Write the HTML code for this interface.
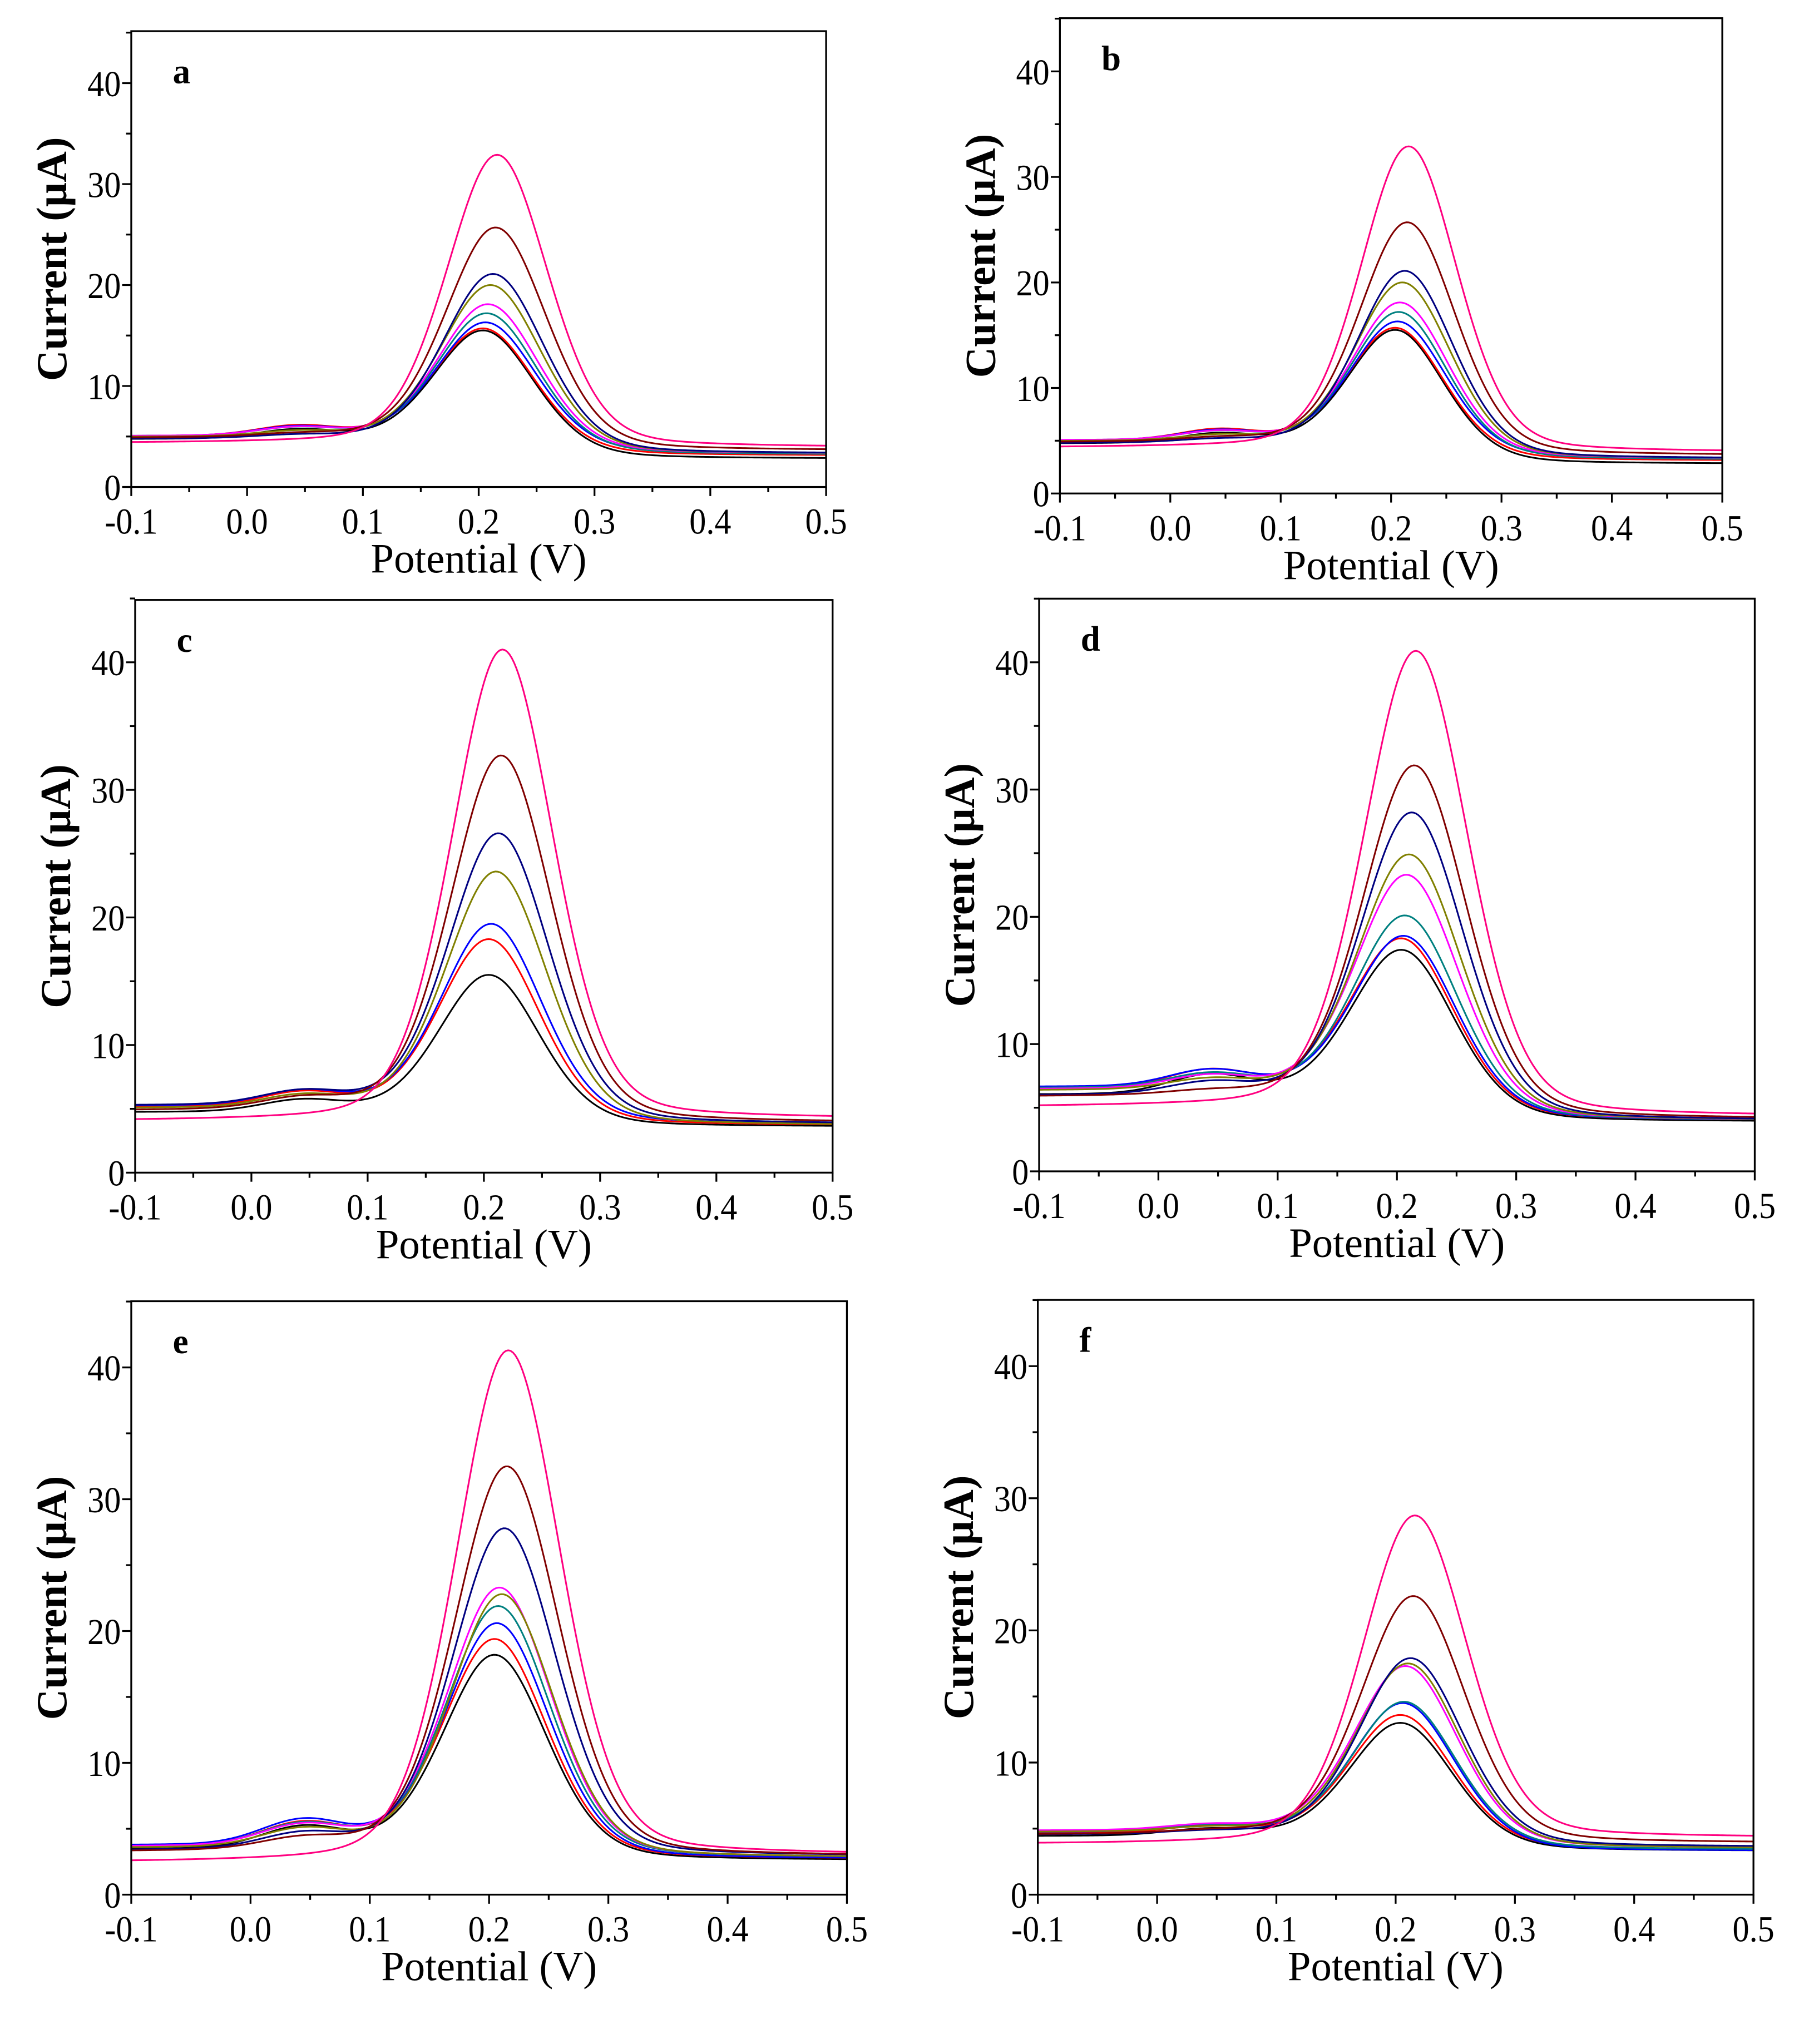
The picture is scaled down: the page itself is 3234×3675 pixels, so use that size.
<!DOCTYPE html>
<html><head><meta charset="utf-8">
<style>
html,body{margin:0;padding:0;background:#fff;}
svg{display:block;}
text{font-family:"Liberation Serif",serif;fill:#000;}
</style></head>
<body>
<svg id="fig" width="3234" height="3675" viewBox="0 0 1385 1574" xmlns="http://www.w3.org/2000/svg">
<rect width="1385" height="1574" fill="#fff"/>
</svg>
<script>
// series colors (order: black, red, blue, teal, magenta, olive, navy, darkred, pink)
const colors = ["#000000","#ff0000","#0000ff","#008080","#ff00ff","#808000","#000080","#800000","#ff0080"];
const xTicks = [-0.1,0.0,0.1,0.2,0.3,0.4,0.5];
const xTickLabels = ["-0.1","0.0","0.1","0.2","0.3","0.4","0.5"];
const yTicks = [0,10,20,30,40];
const yTickLabels = ["0","10","20","30","40"];
// peak currents (µA) per panel
const peaksA = [15.5,15.7,16.3,17.2,18.1,20.0,21.1,25.7,32.9];
const peaksB = [15.5,15.7,16.3,17.2,18.1,20.0,21.1,25.7,32.9];
const peaksC = [15.5,18.3,19.5,null,null,23.6,26.6,32.7,41.0];
const peaksD = [17.4,18.3,18.5,20.1,23.3,24.9,28.2,31.9,40.9];
const peaksE = [18.2,19.4,20.6,21.9,23.3,22.8,27.8,32.5,41.3];
const peaksF = [13.0,13.6,14.5,14.6,17.3,17.5,17.9,22.6,28.7];
// peak potentials (V)
const peakPos = [0.205,0.205,0.207,0.208,0.209,0.211,0.213,0.215,0.216];
// baselines at -0.1 V and 0.5 V per panel
const leftA = [4.7,5.0,5.0,5.0,5.0,4.9,4.7,4.8,4.3];
const rightA = [2.8,3.1,3.3,3.2,3.3,3.3,3.3,3.6,3.9];
const leftC = [4.7,5.1,5.2,5.0,5.0,5.0,5.2,4.8,4.0];
const rightC = [3.6,3.7,3.8,3.7,3.8,3.7,3.8,3.9,4.2];
const leftD = [6.0,6.5,6.6,6.5,6.4,6.3,5.9,5.8,5.0];
const rightD = [3.9,4.0,4.0,4.0,4.0,4.0,4.0,4.1,4.3];
const leftE = [3.4,3.6,3.7,3.6,3.6,3.5,3.3,3.2,2.4];
const rightE = [2.6,2.7,2.7,2.8,2.8,2.8,2.9,2.9,3.0];
const leftF = [4.4,4.6,4.7,4.8,4.8,4.7,4.5,4.5,3.8];
const rightF = [3.3,3.4,3.3,3.4,3.5,3.5,3.6,3.9,4.3];
// pre-peak bump heights (µA) near 0.045 V
const bumpA = [0.9,1.0,0.9,0.8,0.8,0.5,0.3,0.3,0.0];
const bumpC = [0.9,1.1,1.1,0.9,0.9,0.9,1.0,0.8,0.0];
const bumpD = [1.5,1.4,1.3,1.1,1.0,0.8,0.9,0.3,0.0];
const bumpE = [1.6,1.7,1.8,1.6,1.5,1.3,1.1,0.8,0.0];
const bumpF = [0.5,0.5,0.5,0.4,0.4,0.3,0.2,0.2,0.0];

const panels = [
 {id:"a", L:101,R:636,T:24,B:375,y40:64, peaks:peaksA,left:leftA,right:rightA,bump:bumpA},
 {id:"b", L:816,R:1326,T:14,B:380,y40:55, peaks:peaksB,left:leftA,right:rightA,bump:bumpA},
 {id:"c", L:104,R:641,T:462,B:903,y40:510, peaks:peaksC,left:leftC,right:rightC,bump:bumpC},
 {id:"d", L:800,R:1351,T:461,B:902,y40:510, peaks:peaksD,left:leftD,right:rightD,bump:bumpD},
 {id:"e", L:101,R:652,T:1002,B:1459,y40:1053, peaks:peaksE,left:leftE,right:rightE,bump:bumpE},
 {id:"f", L:799,R:1350,T:1001,B:1459,y40:1052, peaks:peaksF,left:leftF,right:rightF,bump:bumpF}
];
const NS="http://www.w3.org/2000/svg";
const svg=document.getElementById("fig");
function mk(tag,attrs,parent){const e=document.createElementNS(NS,tag);for(const k in attrs)e.setAttribute(k,attrs[k]);parent.appendChild(e);return e;}
function curve(x,P,xp,l,r,b){
  const sig=1/(1+Math.exp(-(x-0.17)/0.04));
  const base=l+(r-l)*sig;
  const basePk=l+(r-l)/(1+Math.exp(-(xp-0.17)/0.04));
  const d=x-xp, s=0.044;
  const g=0.78*Math.exp(-d*d/(2*s*s))+0.22/(1+(d/0.05)*(d/0.05));
  const bump=b*Math.exp(-Math.pow(x-0.045,2)/(2*0.035*0.035));
  return base+(P-basePk)*g+bump;
}
panels.forEach(p=>{
  const g=mk("g",{},svg);
  
  
  const sx=v=>p.L+(v+0.1)/0.6*(p.R-p.L);
  const sy=v=>p.B-v*(p.B-p.y40)/40;
  const cg=mk("g",{},g);
  
  
  p.peaks.forEach((P,i)=>{
    if(P===null)return;
    let d="";
    for(let k=0;k<=300;k++){const x=-0.1+0.6*k/300;const y=curve(x,P,peakPos[i],p.left[i],p.right[i],p.bump[i]);d+=(k?"L":"M")+sx(x).toFixed(2)+","+sy(y).toFixed(2);}
    const path=mk("path",{d:d,fill:"none",stroke:colors[i],"stroke-width":1.3},cg);
    
    
  });
  const frame=mk("rect",{x:p.L,y:p.T,width:p.R-p.L,height:p.B-p.T,fill:"none",stroke:"#000","stroke-width":1.4},g);
  
  
  for(let v=-0.1;v<=0.5001;v+=0.05){const X=sx(v);const major=Math.abs(Math.round(v*10)-v*10)<1e-6;
    const t=mk("line",{x1:X,x2:X,y1:p.B,y2:p.B+(major?7:4),stroke:"#000","stroke-width":1.4},g);
    
    }
  xTicks.forEach((v,i)=>{const t=mk("text",{x:sx(v),y:p.B+36,"text-anchor":"middle","font-size":28,transform:"translate("+sx(v)+" 0) scale(0.92 1) translate("+(-sx(v))+" 0)"},g);t.textContent=xTickLabels[i];
    
    });
  for(let v=0;v<=45;v+=5){const Y=sy(v);const major=v%10===0;
    const t=mk("line",{x1:p.L-(major?7:4),x2:p.L,y1:Y,y2:Y,stroke:"#000","stroke-width":1.4},g);
    
    }
  yTicks.forEach((v,i)=>{const t=mk("text",{x:p.L-8,y:sy(v)+10,"text-anchor":"end","font-size":28,transform:"translate("+(p.L-8)+" 0) scale(0.92 1) translate("+(-(p.L-8))+" 0)"},g);t.textContent=yTickLabels[i];
    
    });
  const xt=mk("text",{x:(p.L+p.R)/2,y:p.B+66,"text-anchor":"middle","font-size":32},g);xt.textContent="Potential (V)";
  
  
  const cy=(p.T+p.B)/2;
  const yt=mk("text",{x:p.L-50,y:cy,"text-anchor":"middle","font-size":33,"font-weight":"bold",transform:"rotate(-90 "+(p.L-50)+" "+cy+")"},g);yt.textContent="Current (µA)";
  
  
  const lb=mk("text",{x:p.L+32,y:p.T+40,"font-size":27,"font-weight":"bold"},g);lb.textContent=p.id;
  
  
});
</script>
</body></html>
